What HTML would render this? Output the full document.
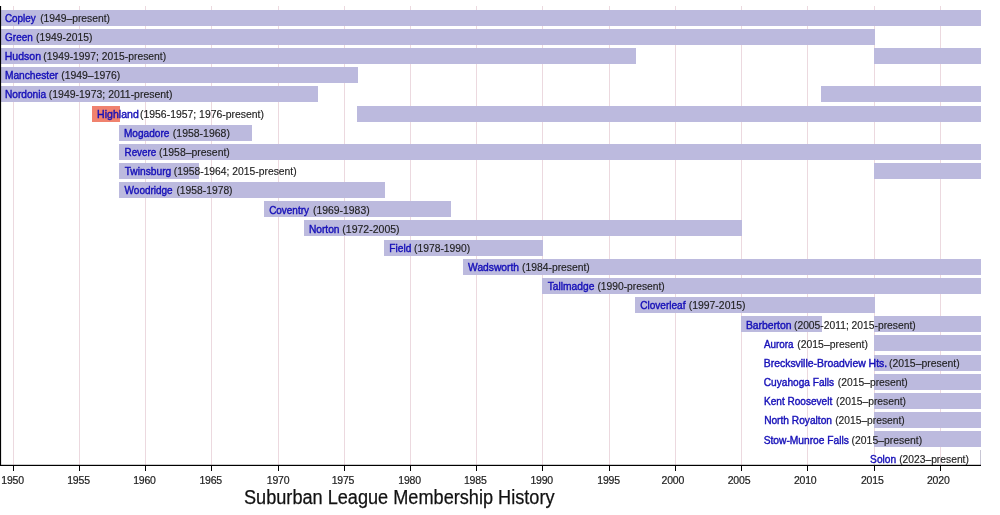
<!DOCTYPE html>
<html><head><meta charset="utf-8"><style>
html,body{margin:0;padding:0;background:#fff;width:1000px;height:515px;overflow:hidden}
svg{display:block;will-change:transform}
text{font-family:"Liberation Sans",sans-serif;font-size:10.5px}
text.n{fill:#1610b8;stroke:#1610b8;stroke-width:0.4px}
text.d{fill:#222;stroke:#222;stroke-width:0.15px}
text.yr{font-size:10.5px;fill:#222;stroke:#222;stroke-width:0.2px;text-anchor:middle;letter-spacing:-0.2px}
text.title{font-size:20.0px;fill:#111;stroke:#111;stroke-width:0.25px}
</style></head><body>
<svg width="1000" height="515" viewBox="0 0 1000 515">
<rect x="13" y="6" width="1" height="459" fill="#ecd9df"/>
<rect x="79" y="6" width="1" height="459" fill="#ecd9df"/>
<rect x="145" y="6" width="1" height="459" fill="#ecd9df"/>
<rect x="211" y="6" width="1" height="459" fill="#ecd9df"/>
<rect x="278" y="6" width="1" height="459" fill="#ecd9df"/>
<rect x="344" y="6" width="1" height="459" fill="#ecd9df"/>
<rect x="410" y="6" width="1" height="459" fill="#ecd9df"/>
<rect x="476" y="6" width="1" height="459" fill="#ecd9df"/>
<rect x="542" y="6" width="1" height="459" fill="#ecd9df"/>
<rect x="609" y="6" width="1" height="459" fill="#ecd9df"/>
<rect x="675" y="6" width="1" height="459" fill="#ecd9df"/>
<rect x="741" y="6" width="1" height="459" fill="#ecd9df"/>
<rect x="807" y="6" width="1" height="459" fill="#ecd9df"/>
<rect x="874" y="6" width="1" height="459" fill="#ecd9df"/>
<rect x="940" y="6" width="1" height="459" fill="#ecd9df"/>
<rect x="1" y="10" width="980" height="16.0" fill="#bcbade"/>
<rect x="1" y="29" width="874" height="16.0" fill="#bcbade"/>
<rect x="1" y="48" width="635" height="16.0" fill="#bcbade"/>
<rect x="874" y="48" width="107" height="16.0" fill="#bcbade"/>
<rect x="1" y="67" width="357" height="16.0" fill="#bcbade"/>
<rect x="1" y="86" width="317" height="16.0" fill="#bcbade"/>
<rect x="821" y="86" width="160" height="16.0" fill="#bcbade"/>
<rect x="92" y="106" width="28" height="16.0" fill="#f0826e"/>
<rect x="357" y="106" width="624" height="16.0" fill="#bcbade"/>
<rect x="119" y="125" width="133" height="16.0" fill="#bcbade"/>
<rect x="119" y="144" width="862" height="16.0" fill="#bcbade"/>
<rect x="119" y="163" width="80" height="16.0" fill="#bcbade"/>
<rect x="874" y="163" width="107" height="16.0" fill="#bcbade"/>
<rect x="119" y="182" width="266" height="16.0" fill="#bcbade"/>
<rect x="264" y="201" width="187" height="16.0" fill="#bcbade"/>
<rect x="304" y="220" width="438" height="16.0" fill="#bcbade"/>
<rect x="384" y="240" width="159" height="16.0" fill="#bcbade"/>
<rect x="463" y="259" width="518" height="16.0" fill="#bcbade"/>
<rect x="542" y="278" width="439" height="16.0" fill="#bcbade"/>
<rect x="635" y="297" width="240" height="16.0" fill="#bcbade"/>
<rect x="741" y="316" width="81" height="16.0" fill="#bcbade"/>
<rect x="874" y="316" width="107" height="16.0" fill="#bcbade"/>
<rect x="874" y="335" width="107" height="16.0" fill="#bcbade"/>
<rect x="874" y="355" width="107" height="16.0" fill="#bcbade"/>
<rect x="874" y="374" width="107" height="16.0" fill="#bcbade"/>
<rect x="874" y="393" width="107" height="16.0" fill="#bcbade"/>
<rect x="874" y="412" width="107" height="16.0" fill="#bcbade"/>
<rect x="874" y="431" width="107" height="16.0" fill="#bcbade"/>
<rect x="980" y="450" width="1" height="16.0" fill="#bcbade"/>
<rect x="980" y="450" width="1" height="16.0" fill="#c8c6d4"/>
<text class="n" x="4.91" y="21.73" textLength="30.77" lengthAdjust="spacingAndGlyphs">Copley</text>
<text class="d" x="40.17" y="21.73" textLength="69.81" lengthAdjust="spacingAndGlyphs">(1949–present)</text>
<text class="n" x="5.10" y="40.91" textLength="27.63" lengthAdjust="spacingAndGlyphs">Green</text>
<text class="d" x="36.07" y="40.91" textLength="56.29" lengthAdjust="spacingAndGlyphs">(1949-2015)</text>
<text class="n" x="4.79" y="60.09" textLength="36.23" lengthAdjust="spacingAndGlyphs">Hudson</text>
<text class="d" x="43.24" y="60.09" textLength="122.94" lengthAdjust="spacingAndGlyphs">(1949-1997; 2015-present)</text>
<text class="n" x="4.90" y="79.26" textLength="53.36" lengthAdjust="spacingAndGlyphs">Manchester</text>
<text class="d" x="61.19" y="79.26" textLength="59.17" lengthAdjust="spacingAndGlyphs">(1949–1976)</text>
<text class="n" x="4.90" y="98.44" textLength="41.25" lengthAdjust="spacingAndGlyphs">Nordonia</text>
<text class="d" x="48.82" y="98.44" textLength="123.69" lengthAdjust="spacingAndGlyphs">(1949-1973; 2011-present)</text>
<text class="n" x="97.13" y="117.62" textLength="41.66" lengthAdjust="spacingAndGlyphs">Highland</text>
<text class="d" x="140.04" y="117.62" textLength="123.90" lengthAdjust="spacingAndGlyphs">(1956-1957; 1976-present)</text>
<text class="n" x="123.94" y="136.80" textLength="45.42" lengthAdjust="spacingAndGlyphs">Mogadore</text>
<text class="d" x="172.85" y="136.80" textLength="57.03" lengthAdjust="spacingAndGlyphs">(1958-1968)</text>
<text class="n" x="124.52" y="155.98" textLength="31.78" lengthAdjust="spacingAndGlyphs">Revere</text>
<text class="d" x="159.03" y="155.98" textLength="70.81" lengthAdjust="spacingAndGlyphs">(1958–present)</text>
<text class="n" x="124.67" y="175.15" textLength="46.65" lengthAdjust="spacingAndGlyphs">Twinsburg</text>
<text class="d" x="173.77" y="175.15" textLength="122.90" lengthAdjust="spacingAndGlyphs">(1958-1964; 2015-present)</text>
<text class="n" x="124.62" y="194.33" textLength="48.06" lengthAdjust="spacingAndGlyphs">Woodridge</text>
<text class="d" x="176.41" y="194.33" textLength="56.15" lengthAdjust="spacingAndGlyphs">(1958-1978)</text>
<text class="n" x="269.18" y="213.51" textLength="39.76" lengthAdjust="spacingAndGlyphs">Coventry</text>
<text class="d" x="313.04" y="213.51" textLength="56.62" lengthAdjust="spacingAndGlyphs">(1969-1983)</text>
<text class="n" x="308.90" y="232.69" textLength="30.66" lengthAdjust="spacingAndGlyphs">Norton</text>
<text class="d" x="342.34" y="232.69" textLength="57.27" lengthAdjust="spacingAndGlyphs">(1972-2005)</text>
<text class="n" x="389.28" y="251.87" textLength="22.13" lengthAdjust="spacingAndGlyphs">Field</text>
<text class="d" x="414.08" y="251.87" textLength="56.17" lengthAdjust="spacingAndGlyphs">(1978-1990)</text>
<text class="n" x="468.10" y="271.04" textLength="50.96" lengthAdjust="spacingAndGlyphs">Wadsworth</text>
<text class="d" x="522.08" y="271.04" textLength="67.73" lengthAdjust="spacingAndGlyphs">(1984-present)</text>
<text class="n" x="547.74" y="290.22" textLength="46.64" lengthAdjust="spacingAndGlyphs">Tallmadge</text>
<text class="d" x="597.41" y="290.22" textLength="67.35" lengthAdjust="spacingAndGlyphs">(1990-present)</text>
<text class="n" x="640.20" y="309.40" textLength="45.34" lengthAdjust="spacingAndGlyphs">Cloverleaf</text>
<text class="d" x="688.73" y="309.40" textLength="56.78" lengthAdjust="spacingAndGlyphs">(1997-2015)</text>
<text class="n" x="745.93" y="328.58" textLength="45.59" lengthAdjust="spacingAndGlyphs">Barberton</text>
<text class="d" x="793.97" y="328.58" textLength="121.78" lengthAdjust="spacingAndGlyphs">(2005-2011; 2015-present)</text>
<text class="n" x="764.03" y="347.76" textLength="29.55" lengthAdjust="spacingAndGlyphs">Aurora</text>
<text class="d" x="797.26" y="347.76" textLength="70.62" lengthAdjust="spacingAndGlyphs">(2015–present)</text>
<text class="n" x="763.72" y="366.93" textLength="123.46" lengthAdjust="spacingAndGlyphs">Brecksville-Broadview Hts.</text>
<text class="d" x="889.04" y="366.93" textLength="70.57" lengthAdjust="spacingAndGlyphs">(2015–present)</text>
<text class="n" x="763.77" y="386.11" textLength="70.37" lengthAdjust="spacingAndGlyphs">Cuyahoga Falls</text>
<text class="d" x="837.81" y="386.11" textLength="69.99" lengthAdjust="spacingAndGlyphs">(2015–present)</text>
<text class="n" x="764.00" y="405.29" textLength="68.25" lengthAdjust="spacingAndGlyphs">Kent Roosevelt</text>
<text class="d" x="836.10" y="405.29" textLength="69.83" lengthAdjust="spacingAndGlyphs">(2015–present)</text>
<text class="n" x="764.14" y="424.47" textLength="67.82" lengthAdjust="spacingAndGlyphs">North Royalton</text>
<text class="d" x="835.16" y="424.47" textLength="69.59" lengthAdjust="spacingAndGlyphs">(2015–present)</text>
<text class="n" x="763.64" y="443.65" textLength="85.33" lengthAdjust="spacingAndGlyphs">Stow-Munroe Falls</text>
<text class="d" x="851.59" y="443.65" textLength="70.54" lengthAdjust="spacingAndGlyphs">(2015–present)</text>
<text class="n" x="870.11" y="462.82" textLength="25.99" lengthAdjust="spacingAndGlyphs">Solon</text>
<text class="d" x="899.14" y="462.82" textLength="69.76" lengthAdjust="spacingAndGlyphs">(2023–present)</text>
<rect x="0" y="6" width="1.1" height="460" fill="#000"/>
<rect x="0" y="464.8" width="981" height="1.2" fill="#000"/>
<rect x="13" y="465" width="1" height="6" fill="#000"/>
<text class="yr" x="12.54" y="484">1950</text>
<rect x="79" y="465" width="1" height="6" fill="#000"/>
<text class="yr" x="78.51" y="484">1955</text>
<rect x="145" y="465" width="1" height="6" fill="#000"/>
<text class="yr" x="144.48" y="484">1960</text>
<rect x="211" y="465" width="1" height="6" fill="#000"/>
<text class="yr" x="210.69" y="484">1965</text>
<rect x="278" y="465" width="1" height="6" fill="#000"/>
<text class="yr" x="278.11" y="484">1970</text>
<rect x="344" y="465" width="1" height="6" fill="#000"/>
<text class="yr" x="342.92" y="484">1975</text>
<rect x="410" y="465" width="1" height="6" fill="#000"/>
<text class="yr" x="409.54" y="484">1980</text>
<rect x="476" y="465" width="1" height="6" fill="#000"/>
<text class="yr" x="475.26" y="484">1985</text>
<rect x="542" y="465" width="1" height="6" fill="#000"/>
<text class="yr" x="541.67" y="484">1990</text>
<rect x="609" y="465" width="1" height="6" fill="#000"/>
<text class="yr" x="608.59" y="484">1995</text>
<rect x="675" y="465" width="1" height="6" fill="#000"/>
<text class="yr" x="672.81" y="484">2000</text>
<rect x="741" y="465" width="1" height="6" fill="#000"/>
<text class="yr" x="739.02" y="484">2005</text>
<rect x="807" y="465" width="1" height="6" fill="#000"/>
<text class="yr" x="805.24" y="484">2010</text>
<rect x="874" y="465" width="1" height="6" fill="#000"/>
<text class="yr" x="872.25" y="484">2015</text>
<rect x="940" y="465" width="1" height="6" fill="#000"/>
<text class="yr" x="938.27" y="484">2020</text>
<text class="title" x="244.0" y="504.2" textLength="310.5" lengthAdjust="spacingAndGlyphs">Suburban League Membership History</text>
</svg>
</body></html>
